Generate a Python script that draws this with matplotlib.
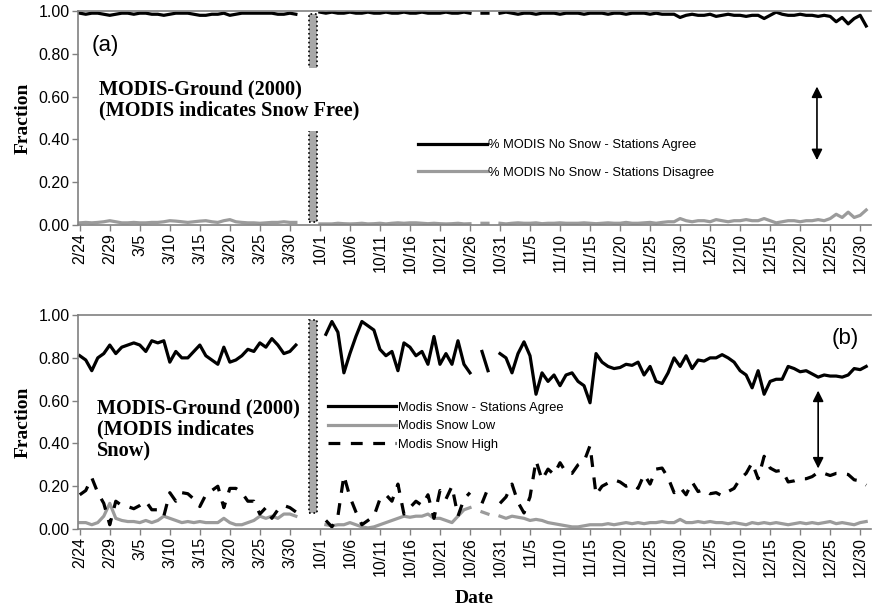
import numpy as np
import matplotlib
matplotlib.use("Agg")
import matplotlib.pyplot as plt
from matplotlib.patches import Rectangle

# tick labels, every 5th category (3 empty categories sit between 3/31 and 10/1)
tick_labels = ["2/24", "2/29", "3/5", "3/10", "3/15", "3/20", "3/25", "3/30",
               "10/1", "10/6", "10/11", "10/16", "10/21", "10/26", "10/31",
               "11/5", "11/10", "11/15", "11/20", "11/25", "11/30",
               "12/5", "12/10", "12/15", "12/20", "12/25", "12/30"]

# spring 2/24 .. 3/31 (37 days), autumn 10/1 .. 12/31 (92 days), None = no data
a_agree_spring = [0.99, 0.985, 0.99, 0.99, 0.985, 0.98, 0.985, 0.99, 0.99, 0.985,
                  0.99, 0.99, 0.985, 0.985, 0.98, 0.985, 0.99, 0.99, 0.99, 0.985,
                  0.98, 0.98, 0.985, 0.985, 0.99, 0.98, 0.985, 0.99, 0.99, 0.99,
                  0.99, 0.99, 0.99, 0.985, 0.985, 0.99, 0.985]
a_disagree_spring = [0.01, 0.012, 0.01, 0.012, 0.015, 0.02, 0.015, 0.01, 0.01, 0.012,
                     0.01, 0.01, 0.012, 0.012, 0.015, 0.02, 0.018, 0.015, 0.012, 0.015,
                     0.018, 0.02, 0.015, 0.012, 0.02, 0.025, 0.015, 0.012, 0.01, 0.01,
                     0.008, 0.01, 0.012, 0.012, 0.015, 0.012, 0.012]
a_agree_fall = [0.995, 0.99, 0.995, 0.99, 0.99, 0.995, 0.99, 0.99, 0.995, 0.99,
                0.99, 0.995, 0.99, 0.99, 0.995, 0.99, 0.99, 0.995, 0.99, 0.99,
                0.99, 0.995, 0.99, 0.99, 0.995, 0.99, None, 0.99, 0.99, None,
                0.99, 0.995, 0.99, 0.985, 0.99, 0.99, 0.985, 0.99, 0.99, 0.99,
                0.985, 0.99, 0.99, 0.99, 0.985, 0.99, 0.99, 0.99, 0.985, 0.99,
                0.99, 0.985, 0.99, 0.99, 0.99, 0.985, 0.99, 0.985, 0.985, 0.985,
                0.97, 0.98, 0.985, 0.98, 0.98, 0.985, 0.975, 0.98, 0.985, 0.98,
                0.98, 0.975, 0.98, 0.98, 0.965, 0.98, 0.995, 0.985, 0.98, 0.98,
                0.985, 0.98, 0.98, 0.975, 0.98, 0.975, 0.95, 0.97, 0.94, 0.965,
                0.98, 0.93]
a_disagree_fall = [0.005, 0.005, 0.005, 0.008, 0.006, 0.005, 0.006, 0.008, 0.005, 0.006,
                   0.008, 0.005, 0.008, 0.01, 0.008, 0.01, 0.01, 0.008, 0.006, 0.008,
                   0.006, 0.005, 0.006, 0.008, 0.005, 0.006, None, 0.008, 0.008, None,
                   0.008, 0.005, 0.008, 0.01, 0.008, 0.008, 0.01, 0.006, 0.008, 0.008,
                   0.01, 0.008, 0.008, 0.008, 0.01, 0.008, 0.006, 0.008, 0.01, 0.008,
                   0.008, 0.012, 0.008, 0.008, 0.01, 0.012, 0.008, 0.012, 0.015, 0.015,
                   0.03, 0.02, 0.015, 0.02, 0.02, 0.015, 0.025, 0.02, 0.015, 0.02,
                   0.02, 0.025, 0.02, 0.02, 0.03, 0.02, 0.01, 0.015, 0.02, 0.02,
                   0.015, 0.02, 0.02, 0.025, 0.02, 0.03, 0.05, 0.035, 0.06, 0.035,
                   0.045, 0.07]

b_agree_spring = [0.81, 0.79, 0.74, 0.80, 0.82, 0.86, 0.82, 0.85, 0.86, 0.87,
                  0.86, 0.83, 0.88, 0.87, 0.88, 0.78, 0.83, 0.80, 0.80, 0.83,
                  0.86, 0.81, 0.79, 0.77, 0.85, 0.78, 0.79, 0.81, 0.84, 0.83,
                  0.87, 0.85, 0.89, 0.86, 0.82, 0.83, 0.86]
b_low_spring = [0.03, 0.03, 0.02, 0.03, 0.06, 0.12, 0.05, 0.04, 0.035, 0.035,
                0.03, 0.04, 0.03, 0.04, 0.06, 0.05, 0.04, 0.03, 0.035, 0.03,
                0.035, 0.03, 0.03, 0.03, 0.05, 0.03, 0.02, 0.02, 0.03, 0.04,
                0.06, 0.05, 0.06, 0.05, 0.07, 0.07, 0.06]
b_high_spring = [0.16, 0.18, 0.24, 0.17, 0.12, 0.02, 0.13, 0.11, 0.105, 0.095,
                 0.11, 0.13, 0.09, 0.09, 0.06, 0.17, 0.13, 0.17, 0.165, 0.14,
                 0.105, 0.16, 0.18, 0.20, 0.10, 0.19, 0.19, 0.17, 0.13, 0.13,
                 0.07, 0.10, 0.05, 0.09, 0.11, 0.10, 0.08]
b_agree_fall = [None, 0.91, 0.97, 0.92, 0.73, 0.82, 0.90, 0.97, 0.95, 0.93,
                0.84, 0.81, 0.83, 0.74, 0.87, 0.85, 0.81, 0.83, 0.77, 0.90,
                0.77, 0.82, 0.77, 0.88, 0.77, 0.73, None, 0.83, 0.74, None,
                0.82, 0.80, 0.73, 0.82, 0.875, 0.81, 0.63, 0.73, 0.69, 0.72,
                0.67, 0.72, 0.73, 0.69, 0.67, 0.59, 0.82, 0.78, 0.76, 0.75,
                0.755, 0.77, 0.765, 0.78, 0.72, 0.76, 0.69, 0.68, 0.73, 0.80,
                0.76, 0.81, 0.75, 0.79, 0.785, 0.80, 0.80, 0.815, 0.80, 0.78,
                0.74, 0.72, 0.66, 0.74, 0.63, 0.69, 0.70, 0.70, 0.76, 0.75,
                0.735, 0.74, 0.725, 0.71, 0.72, 0.715, 0.715, 0.71, 0.72, 0.75,
                0.745, 0.76]
b_low_fall = [None, 0.02, 0.015, 0.02, 0.02, 0.03, 0.02, 0.01, 0.005, 0.01,
              0.02, 0.03, 0.04, 0.05, 0.06, 0.055, 0.06, 0.06, 0.07, 0.05,
              0.05, 0.04, 0.03, 0.06, 0.09, 0.10, None, 0.08, 0.07, None,
              0.06, 0.05, 0.06, 0.055, 0.05, 0.04, 0.045, 0.04, 0.03, 0.025,
              0.02, 0.015, 0.01, 0.01, 0.015, 0.02, 0.02, 0.02, 0.025, 0.02,
              0.025, 0.03, 0.025, 0.03, 0.025, 0.03, 0.03, 0.035, 0.03, 0.03,
              0.045, 0.03, 0.03, 0.035, 0.03, 0.035, 0.03, 0.03, 0.025, 0.03,
              0.025, 0.02, 0.03, 0.025, 0.03, 0.025, 0.03, 0.025, 0.02, 0.025,
              0.03, 0.025, 0.03, 0.025, 0.03, 0.035, 0.025, 0.03, 0.025, 0.02,
              0.03, 0.035]
b_high_fall = [None, 0.04, 0.01, 0.06, 0.25, 0.15, 0.08, 0.02, 0.04, 0.06,
               0.14, 0.16, 0.13, 0.21, 0.07, 0.10, 0.13, 0.11, 0.16, 0.05,
               0.18, 0.14, 0.20, 0.06, 0.14, 0.17, None, 0.12, 0.19, None,
               0.12, 0.15, 0.21, 0.125, 0.075, 0.15, 0.32, 0.23, 0.28, 0.255,
               0.31, 0.265, 0.26, 0.30, 0.315, 0.39, 0.16, 0.20, 0.215, 0.23,
               0.22, 0.20, 0.21, 0.19, 0.255, 0.21, 0.28, 0.285, 0.24, 0.17,
               0.195, 0.16, 0.22, 0.175, 0.185, 0.165, 0.17, 0.155, 0.175, 0.19,
               0.235, 0.26, 0.31, 0.235, 0.34, 0.285, 0.27, 0.275, 0.22, 0.225,
               0.235, 0.235, 0.245, 0.265, 0.26, 0.25, 0.26, 0.26, 0.255, 0.23,
               0.225, 0.205]

x_spring = np.arange(0, 37)
x_fall = np.arange(40, 132)

SANS = "Liberation Sans"
SERIF = "Liberation Serif"
GRAY = "#9b9b9b"
plt.rcParams["font.family"] = SANS


def arr(v):
    return np.array(v, dtype=float)


def style_axis(ax):
    ax.set_xlim(-0.3, 131.8)
    ax.set_ylim(0, 1.0)
    ax.set_yticks(np.arange(0, 1.01, 0.2))
    ax.set_yticklabels([f"{t:.2f}" for t in np.arange(0, 1.01, 0.2)], fontsize=11.5)
    ax.set_xticks(np.arange(0, 131, 5))
    ax.set_xticklabels(tick_labels, rotation=90, fontsize=11.5)
    ax.tick_params(direction="out", length=4, width=1, color="#808080", pad=2)
    for side in ["left", "bottom", "top"]:
        ax.spines[side].set_color("#808080")
        ax.spines[side].set_linewidth(1.2)
    ax.spines["right"].set_visible(False)
    ax.set_ylabel("Fraction", fontfamily=SERIF, fontweight="bold", fontsize=14, labelpad=5)


def break_bar(ax, y0, y1):
    ax.add_patch(Rectangle((38.2, y0), 1.3, y1 - y0, facecolor="#a8a8a8",
                           edgecolor="black", linestyle=":", linewidth=1.2, zorder=2))


fig = plt.figure(figsize=(8.73, 6.13), dpi=100)
ax_a = fig.add_axes([0.0893, 0.633, 0.9084, 0.349])
ax_b = fig.add_axes([0.0893, 0.137, 0.9084, 0.349])

# ---- panel (a)
l1, = ax_a.plot(x_spring, arr(a_agree_spring), color="black", lw=2.3,
                label="% MODIS No Snow - Stations Agree")
ax_a.plot(x_fall, arr(a_agree_fall), color="black", lw=2.3)
l2, = ax_a.plot(x_spring, arr(a_disagree_spring), color=GRAY, lw=2.3,
                label="% MODIS No Snow - Stations Disagree")
ax_a.plot(x_fall, arr(a_disagree_fall), color=GRAY, lw=2.3)
style_axis(ax_a)
break_bar(ax_a, 0.015, 0.985)
ax_a.text(3.2, 0.585, "MODIS-Ground (2000)\n(MODIS indicates Snow Free)",
          fontfamily=SERIF, fontweight="bold", fontsize=14.6, ha="left", va="center",
          linespacing=1.05, zorder=5,
          bbox=dict(facecolor="white", edgecolor="none", pad=8))
ax_a.text(2.0, 0.84, "(a)", fontsize=16, ha="left", va="center")
ax_a.annotate("", xy=(122.8, 0.29), xytext=(122.8, 0.66),
              arrowprops=dict(arrowstyle="<|-|>", color="black", lw=1.2,
                              mutation_scale=16))
ax_a.legend(handles=[l1, l2], loc="upper left", bbox_to_anchor=(0.429, 0.40),
            frameon=False, fontsize=9.3, handlelength=5.3, handletextpad=0.1,
            labelspacing=1.2, borderpad=0, borderaxespad=0)

# ---- panel (b)
m1, = ax_b.plot(x_spring, arr(b_agree_spring), color="black", lw=2.3,
                label="Modis Snow - Stations Agree")
ax_b.plot(x_fall, arr(b_agree_fall), color="black", lw=2.3)
m2, = ax_b.plot(x_spring, arr(b_low_spring), color=GRAY, lw=2.3,
                label="Modis Snow Low")
ax_b.plot(x_fall, arr(b_low_fall), color=GRAY, lw=2.3)
m3, = ax_b.plot(x_spring, arr(b_high_spring), color="black", lw=2.3,
                linestyle=(0, (3.7, 3.3)), label="Modis Snow High")
ax_b.plot(x_fall, arr(b_high_fall), color="black", lw=2.3, linestyle=(0, (3.7, 3.3)))
style_axis(ax_b)
break_bar(ax_b, 0.075, 0.975)
ax_b.text(2.8, 0.465, "MODIS-Ground (2000)\n(MODIS indicates\nSnow)",
          fontfamily=SERIF, fontweight="bold", fontsize=14.6, ha="left", va="center",
          linespacing=1.1, zorder=5,
          bbox=dict(facecolor="white", edgecolor="none", pad=1))
ax_b.text(129.8, 0.89, "(b)", fontsize=16, ha="right", va="center")
ax_b.annotate("", xy=(123.0, 0.27), xytext=(123.0, 0.66),
              arrowprops=dict(arrowstyle="<|-|>", color="black", lw=1.2,
                              mutation_scale=16))
ax_b.legend(handles=[m1, m2, m3], loc="upper left", bbox_to_anchor=(0.315, 0.595),
            frameon=False, fontsize=9.3, handlelength=5.3, handletextpad=0.1,
            labelspacing=0.5, borderpad=0, borderaxespad=0)
ax_b.set_xlabel("Date", fontfamily=SERIF, fontweight="bold", fontsize=14, labelpad=9)

fig.savefig("out.png", dpi=100)
